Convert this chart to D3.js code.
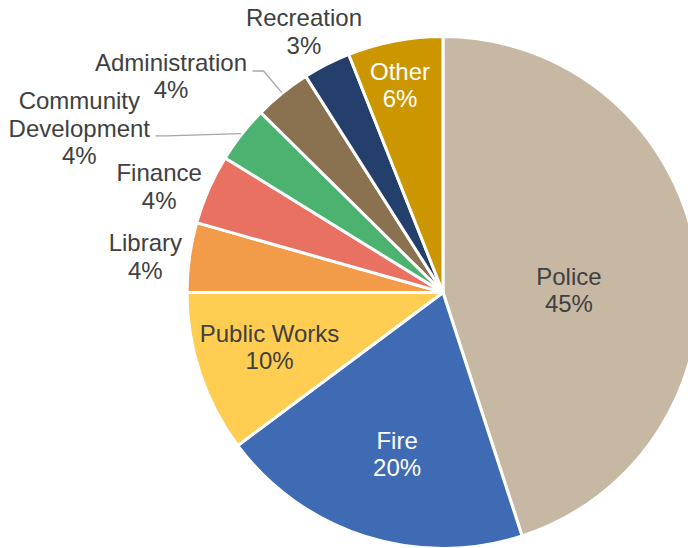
<!DOCTYPE html>
<html>
<head>
<meta charset="utf-8">
<script src="https://cdn.jsdelivr.net/npm/d3@7"></script>
<style>
  html, body { margin: 0; padding: 0; background: #ffffff; }
  svg { display: block; }
  text { font-family: "Liberation Sans", Arial, sans-serif; }
</style>
</head>
<body>
<div id="chart"></div>
<script>
// General fund expenditure shares by department (percent of total)
const categories = ["Police", "Fire", "Public Works", "Library", "Finance",
                    "Community Development", "Administration", "Recreation", "Other"];
const shares = [45.0, 19.8, 10.2, 4.4, 4.4, 3.6, 3.6, 3.0, 6.0];
const sliceColors = ["#C7B8A3", "#3F6BB4", "#FFCD52", "#F29B48", "#E87162",
                     "#4BB26F", "#8A7150", "#243F6B", "#CC9600"];

// Layout settings
const W = 688, H = 548;
const cx = 443, cy = 292.5, R = 256;
const FONT = 24, LH = 27.6, CAP = 17.2;
const WRAP_WIDTH = 160;
const INSIDE_MIN = 5;          // slices at or above this share carry their label inside
const INSIDE_R = 168;          // radius where inside labels start from
const OUTSIDE_R = 263.5;       // radius of the anchor ray point for outside labels
const RIM_R = 257;             // leader lines end on the slice rim
const TEXT_DARK = "#404040";

// Hand-placed label adjustments (dx, dy, leader start dy)
const labelNudge = {
  "Police": [-40, 23.5, 0],
  "Fire": [5, 1.4, 0],
  "Public Works": [-14, 1.3, 0],
  "Other": [-11.5, -42.5, 0],
  "Community Development": [-85.8, -1.5, 7.75],
  "Administration": [-30.6, -11.4, -5],
  "Recreation": [38.6, -26.2, 0]
};

const data = categories.map((name, i) => ({ name, share: shares[i], color: sliceColors[i] }));
const total = d3.sum(shares);
const pct = d3.format(".0%");

const svg = d3.select("#chart").append("svg")
  .attr("width", W).attr("height", H);

const pie = d3.pie().sort(null).value(d => d.share);
const arc = d3.arc().innerRadius(0).outerRadius(R);
const arcs = pie(data);

const g = svg.append("g").attr("transform", `translate(${cx},${cy})`);

g.selectAll("path.slice")
  .data(arcs)
  .join("path")
  .attr("class", "slice")
  .attr("d", arc)
  .attr("fill", d => d.data.color)
  .attr("stroke", "#ffffff")
  .attr("stroke-width", 3)
  .attr("stroke-linejoin", "round");

const polar = (r, a) => [r * Math.sin(a), -r * Math.cos(a)];

// measure helper for wrapping
const measurer = svg.append("text").attr("font-size", FONT).attr("visibility", "hidden");
function textWidth(s) {
  measurer.text(s);
  return measurer.node().getComputedTextLength();
}
function wrap(s) {
  if (textWidth(s) <= WRAP_WIDTH) return [s];
  const words = s.split(" ");
  const lines = [];
  let line = "";
  words.forEach(w => {
    const trial = line ? line + " " + w : w;
    if (line && textWidth(trial) > WRAP_WIDTH) { lines.push(line); line = w; }
    else line = trial;
  });
  if (line) lines.push(line);
  return lines;
}

const labelLayer = g.append("g");
const leaderLayer = g.append("g");

arcs.forEach(d => {
  const name = d.data.name;
  const mid = (d.startAngle + d.endAngle) / 2;
  const lines = wrap(name).concat([pct(d.data.share / total)]);
  const widths = lines.map(textWidth);
  const blockW = d3.max(widths);
  const blockH = (lines.length - 1) * LH + CAP;
  const nudge = labelNudge[name] || [0, 0, 0];
  const inside = d.data.share >= INSIDE_MIN;

  let x, y;
  if (inside) {
    const p = polar(INSIDE_R, mid);
    x = p[0] + nudge[0];
    y = p[1] + nudge[1];
  } else {
    // right edge of the text block sits on the anchor ray
    const p = polar(OUTSIDE_R, mid);
    x = p[0] - blockW / 2 + nudge[0];
    y = p[1] + nudge[1];
  }

  const fill = inside && d3.lab(d.data.color).l < 70 ? "#ffffff" : TEXT_DARK;
  const firstBaseline = y - ((lines.length - 1) * LH - CAP) / 2;

  const t = labelLayer.append("text")
    .attr("font-size", FONT)
    .attr("fill", fill)
    .attr("text-anchor", "middle");
  lines.forEach((ln, i) => {
    t.append("tspan").attr("x", x).attr("y", firstBaseline + i * LH).text(ln);
  });

  if (!inside) {
    const rim = polar(RIM_R, mid);
    const left = x - blockW / 2, right = x + blockW / 2;
    const top = y - blockH / 2, bottom = y + blockH / 2;
    const ddx = Math.max(left - rim[0], 0, rim[0] - right);
    const ddy = Math.max(top - rim[1], 0, rim[1] - bottom);
    if (Math.hypot(ddx, ddy) > 20) {
      const start = [right + 5.5, y + nudge[2]];
      const elbow = [start[0] + 11, start[1]];
      leaderLayer.append("path")
        .attr("d", d3.line()([start, elbow, rim]))
        .attr("fill", "none")
        .attr("stroke", "#A6A6A6")
        .attr("stroke-width", 1.3);
    }
  }
});

measurer.remove();
</script>
</body>
</html>
